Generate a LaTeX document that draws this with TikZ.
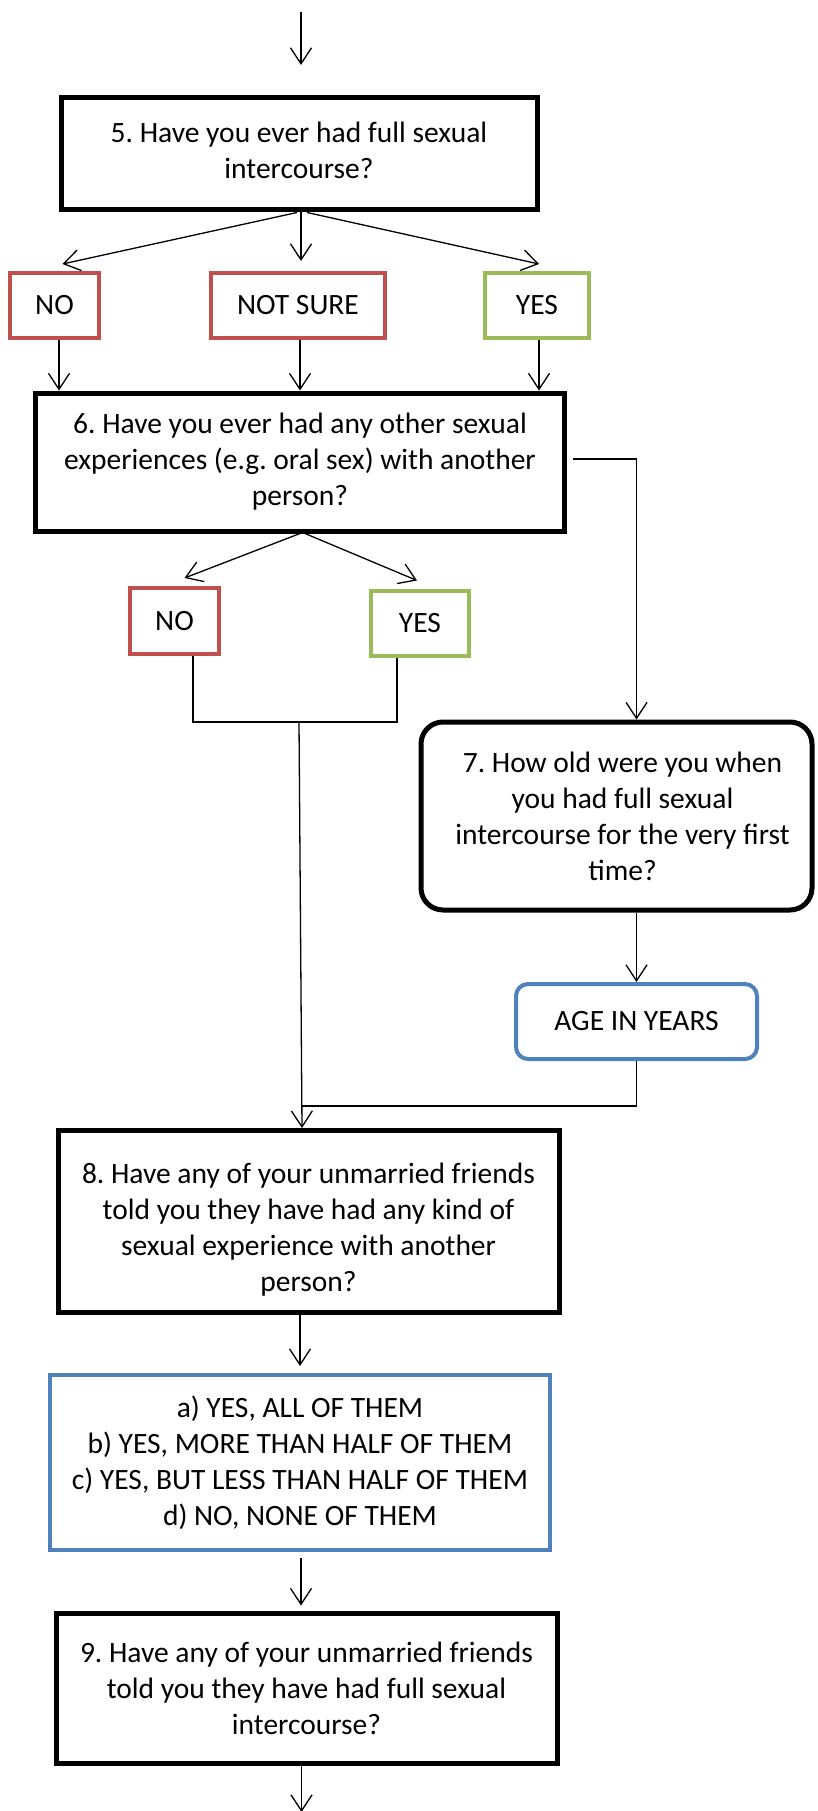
\documentclass[tikz,border=0pt]{standalone}
\usepackage{fontspec}
\setmainfont{Carlito}
\usetikzlibrary{arrows.meta}
\definecolor{nored}{HTML}{C0504D}
\definecolor{yesgreen}{HTML}{9BBB59}
\definecolor{ansblue}{HTML}{4F81BD}
\frenchspacing
\begin{document}
\begin{tikzpicture}[x=1pt,y=-1pt,
  every node/.style={font=\fontsize{29.5}{36}\selectfont, align=center, inner sep=0pt},
  question/.style={draw=black, line width=5pt, minimum width=#1},
  answer/.style={line width=4pt},
  conn/.style={line width=1.3pt},
  arr/.style={conn, -{Straight Barb[length=16pt,width=21pt]}}
]
\useasboundingbox (0,0) rectangle (818,1811);

% question boxes
\node[question=476pt, minimum height=112pt] (q5) at (299,154) {};
\node (q5t) at ([yshift=4pt]q5.center) {5. Have you ever had full sexual\\intercourse?};
\node[question=529pt, minimum height=138pt] (q6) at (300,462) {6. Have you ever had any other sexual\\experiences (e.g. oral sex) with another\\person?};
\node[question=391pt, minimum height=188pt, rounded corners=22pt] (q7) at (616.5,816) {};
\node (q7t) at ([xshift=6pt]q7.center) {7. How old were you when\\you had full sexual\\intercourse for the very first\\time?};
\node[question=501pt, minimum height=182pt] (q8) at (308.5,1221.5) {};
\node (q8t) at ([yshift=-8pt]q8.center) {8. Have any of your unmarried friends\\told you they have had any kind of\\sexual experience with another\\person?};
\node[question=501pt, minimum height=150pt] (q9) at (306.5,1688) {9. Have any of your unmarried friends\\told you they have had full sexual\\intercourse?};

% answer boxes
\node[answer, draw=nored, minimum width=89pt, minimum height=65pt] (no1) at (54.5,305.5) {NO};
\node[answer, draw=nored, minimum width=174pt, minimum height=65pt] (ns) at (298,305.5) {NOT SURE};
\node[answer, draw=yesgreen, minimum width=104pt, minimum height=65pt] (yes1) at (537,305.5) {YES};
\node[answer, draw=nored, minimum width=89pt, minimum height=66pt] (no2) at (174.5,621) {NO};
\node[answer, draw=yesgreen, minimum width=98pt, minimum height=65pt] (yes2) at (420,623) {YES};
\node[answer, draw=ansblue, minimum width=241pt, minimum height=75pt, rounded corners=12pt] (age) at (636.5,1021.5) {AGE IN YEARS};
\node[answer, draw=ansblue, minimum width=500pt, minimum height=175pt] (ans) at (300,1462.5) {a) YES, ALL OF THEM\\b) YES, MORE THAN HALF OF THEM\\c) YES, BUT LESS THAN HALF OF THEM\\d) NO, NONE OF THEM};

% free ends and junctions
\coordinate (in0) at (301,12);
\coordinate (in1) at (301,65);
\coordinate (j) at (299,722);
\coordinate (m) at (302,1106);
\coordinate (out) at (301.5,1812);

% connectors
\draw[arr] (in0) -- (in1);
\draw[arr] ([xshift=-2pt]q5.south) -- ([xshift=8pt,yshift=7pt]no1.north);
\draw[arr] ([xshift=2pt]q5.south) -- ([xshift=2pt,yshift=10pt]q5.south |- ns.north);
\draw[arr] ([xshift=8pt]q5.south) -- ([xshift=2pt,yshift=7pt]yes1.north);

\draw[arr] ([xshift=4.5pt]no1.south) -- ([xshift=4.5pt]no1.south |- q6.north);
\draw[arr] ([xshift=2pt]ns.south) -- ([xshift=2pt]ns.south |- q6.north);
\draw[arr] ([xshift=2pt]yes1.south) -- ([xshift=2pt]yes1.south |- q6.north);

\draw[arr] (q6.south) -- ([xshift=10pt,yshift=8pt]no2.north);
\draw[arr] ([xshift=5pt]q6.south) -- ([xshift=-3pt,yshift=8pt]yes2.north);
\draw[arr] ([xshift=6pt,yshift=3pt]q6.east) -| (age.north |- q7.north);

\draw[conn] ([xshift=18.5pt]no2.south) |- (j);
\draw[conn] ([xshift=-23pt]yes2.south) |- (j);
\draw[arr] (j) -- ([xshift=-6.5pt]q8.north);

\draw[arr] (age.north |- q7.south) -- (age.north);
\draw[conn] (age.south) |- (m);

\draw[arr] (ans.north |- q8.south) -- ([yshift=7pt]ans.north);
\draw[arr] ([xshift=1pt,yshift=-6pt]ans.south) -- ([xshift=1pt,yshift=5pt]ans.south |- q9.north);
\draw[arr] ([xshift=-5pt]q9.south) -- (out);
\end{tikzpicture}
\end{document}
